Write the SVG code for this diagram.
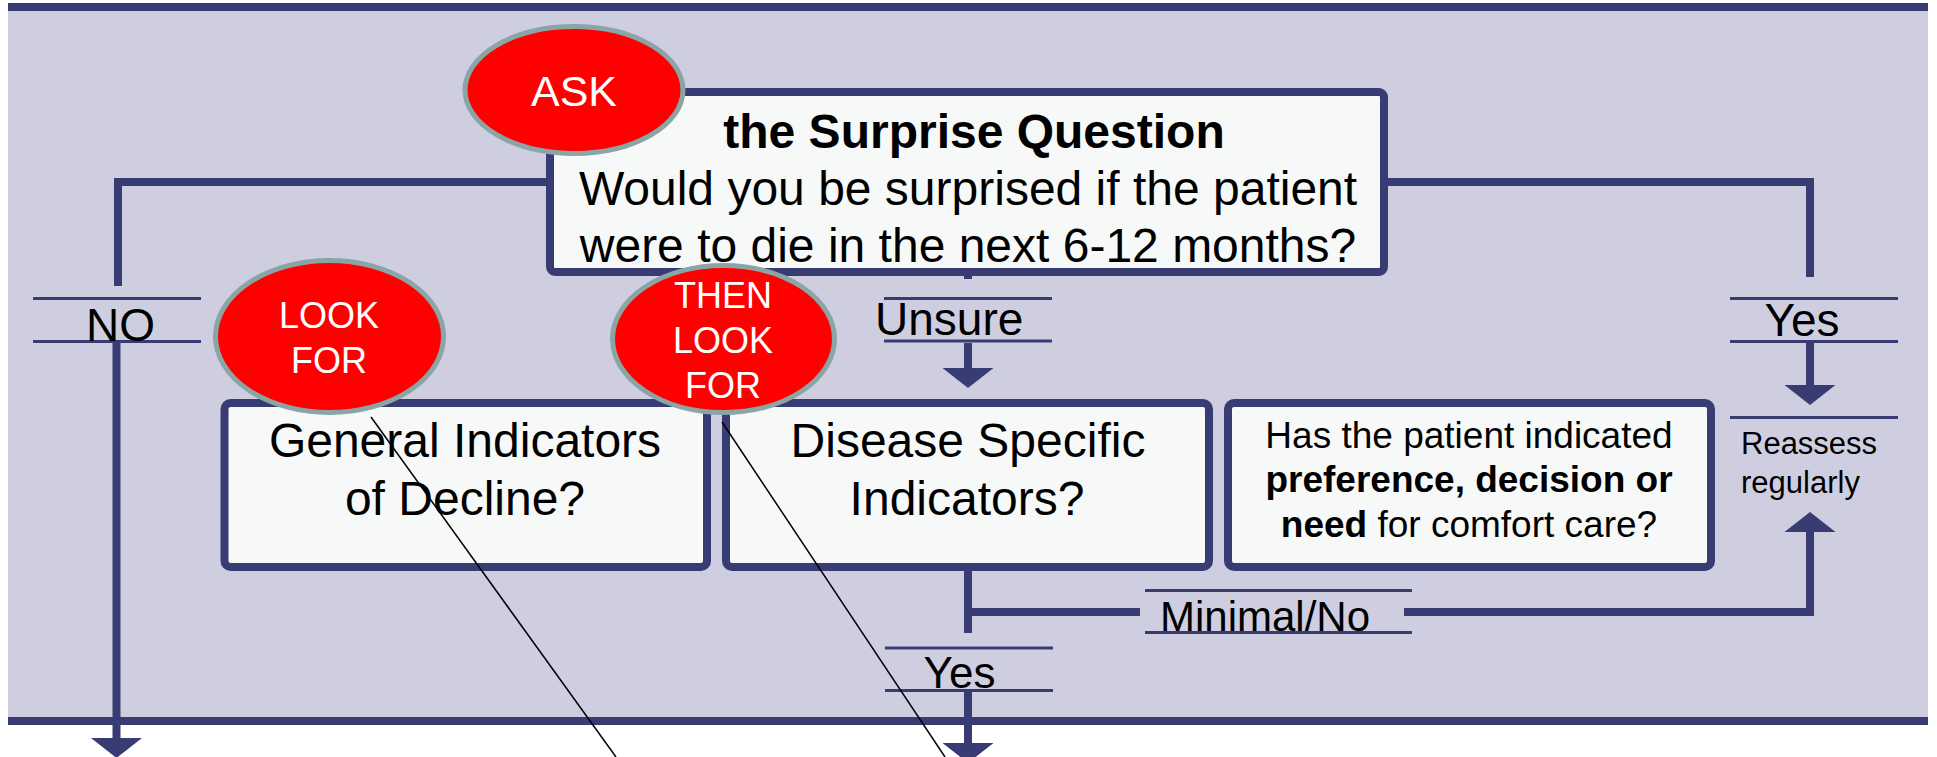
<svg xmlns="http://www.w3.org/2000/svg" width="1937" height="757" viewBox="0 0 1937 757">
<style>
.bg{fill:#CFCEE1}
.bar{fill:#383C73}
.box{fill:#F7F9F8;stroke:#383C73;stroke-width:8}
.oval{fill:#FF0000;stroke:#8AA5A5;stroke-width:5}
.conn{fill:none;stroke:#383C73;stroke-width:8}
.lbl{fill:none;stroke:#383C73;stroke-width:3}
.head{fill:#383C73}
.ptr{stroke:#000;stroke-width:1.5;fill:none}
text{font-family:"Liberation Sans",Arial,sans-serif;fill:#000}
.big{font-size:48px}
.lab{font-size:46px}
.ot{font-size:36px;fill:#fff}
.b{font-weight:bold}
</style>
<rect class="bg" x="8" y="3" width="1920" height="722"/>
<rect class="bar" x="8" y="3" width="1920" height="8"/>
<rect class="bar" x="8" y="717" width="1920" height="8"/>

<g id="connectors">
  <path class="conn" d="M118 286 V182 H550"/>
  <path class="conn" d="M1384 182 H1810 V277"/>
  <line class="conn" x1="968" y1="272" x2="968" y2="279"/>
  <line class="conn" x1="116.5" y1="343" x2="116.5" y2="739"/>
  <polygon class="head" points="91,738 142,738 116.5,758"/>
  <line class="conn" x1="968" y1="343" x2="968" y2="369"/>
  <polygon class="head" points="942.5,368 993.5,368 968,388"/>
  <line class="conn" x1="1810" y1="343" x2="1810" y2="386"/>
  <polygon class="head" points="1784.5,385 1835.5,385 1810,405"/>
  <line class="conn" x1="968" y1="567" x2="968" y2="633"/>
  <path class="conn" d="M968 612 H1140"/>
  <path class="conn" d="M1404 612 H1810 V531"/>
  <polygon class="head" points="1784.5,532 1835.5,532 1810,512"/>
  <line class="conn" x1="968" y1="692" x2="968" y2="744"/>
  <polygon class="head" points="942.5,743 993.5,743 968,763"/>
</g>

<g id="label-no">
  <line class="lbl" x1="33" y1="298.5" x2="201" y2="298.5"/>
  <line class="lbl" x1="33" y1="341.5" x2="201" y2="341.5"/>
  <text class="lab" x="120.5" y="341" text-anchor="middle">NO</text>
</g>
<g id="label-unsure">
  <line class="lbl" x1="884" y1="298.5" x2="1052" y2="298.5"/>
  <line class="lbl" x1="884" y1="341" x2="1052" y2="341"/>
  <text class="lab" x="875" y="335">Unsure</text>
</g>
<g id="label-yes-right">
  <line class="lbl" x1="1730" y1="298.5" x2="1898" y2="298.5"/>
  <line class="lbl" x1="1730" y1="341.5" x2="1898" y2="341.5"/>
  <text class="lab" x="1802" y="336" text-anchor="middle">Yes</text>
</g>
<g id="reassess">
  <line class="lbl" x1="1730" y1="417.5" x2="1898" y2="417.5"/>
  <text x="1741" y="454" font-size="31">Reassess</text>
  <text x="1741" y="493" font-size="31">regularly</text>
</g>
<g id="label-minimal">
  <line class="lbl" x1="1145" y1="590.5" x2="1412" y2="590.5"/>
  <line class="lbl" x1="1145" y1="632.5" x2="1412" y2="632.5"/>
  <text x="1160" y="631" font-size="42">Minimal/No</text>
</g>
<g id="label-yes-bottom">
  <line class="lbl" x1="885" y1="648" x2="1053" y2="648"/>
  <line class="lbl" x1="885" y1="690.5" x2="1053" y2="690.5"/>
  <text x="959.5" y="688" font-size="44" text-anchor="middle">Yes</text>
</g>

<g id="surprise-question">
  <rect class="box" x="550" y="92" width="834" height="180" rx="5"/>
  <text class="big b" x="974" y="148" text-anchor="middle">the Surprise Question</text>
  <text class="big" x="968" y="205" text-anchor="middle">Would you be surprised if the patient</text>
  <text class="big" x="968" y="262" text-anchor="middle">were to die in the next 6-12 months?</text>
</g>
<g id="general-indicators">
  <rect class="box" x="224.5" y="403" width="482.5" height="164" rx="6"/>
  <text class="big" x="465" y="457" text-anchor="middle">General Indicators</text>
  <text class="big" x="465" y="515" text-anchor="middle">of Decline?</text>
</g>
<g id="disease-specific">
  <rect class="box" x="726" y="403" width="483" height="164" rx="6"/>
  <text class="big" x="968" y="457" text-anchor="middle">Disease Specific</text>
  <text class="big" x="967" y="515" text-anchor="middle">Indicators?</text>
</g>
<g id="comfort-care">
  <rect class="box" x="1228" y="403" width="483" height="164" rx="6"/>
  <text font-size="37" x="1469" y="448" text-anchor="middle">Has the patient indicated</text>
  <text font-size="37" class="b" x="1469" y="492" text-anchor="middle">preference, decision or</text>
  <text font-size="37" x="1469" y="537" text-anchor="middle"><tspan class="b">need</tspan> for comfort care?</text>
</g>

<g id="ask">
  <ellipse class="oval" cx="574" cy="90" rx="109" ry="63.5"/>
  <text x="574" y="106" font-size="43" fill="#fff" style="fill:#fff" text-anchor="middle">ASK</text>
</g>
<g id="look-for">
  <ellipse class="oval" cx="329.5" cy="336.5" rx="114" ry="76"/>
  <text class="ot" x="329" y="328" text-anchor="middle">LOOK</text>
  <text class="ot" x="329" y="373" text-anchor="middle">FOR</text>
</g>
<g id="then-look-for">
  <ellipse class="oval" cx="723.5" cy="339" rx="111" ry="73.5"/>
  <text class="ot" x="723" y="308" text-anchor="middle">THEN</text>
  <text class="ot" x="723" y="353" text-anchor="middle">LOOK</text>
  <text class="ot" x="723" y="398" text-anchor="middle">FOR</text>
</g>

<g id="pointers">
  <line class="ptr" x1="371" y1="417" x2="616" y2="757"/>
  <line class="ptr" x1="722" y1="422" x2="945" y2="757"/>
</g>
</svg>
